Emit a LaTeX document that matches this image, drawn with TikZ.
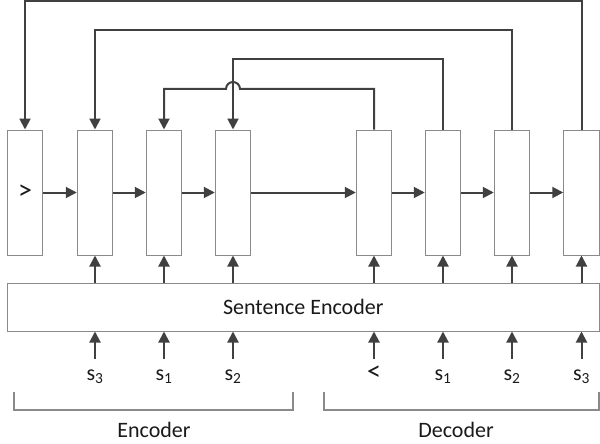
\documentclass[tikz,border=0pt]{standalone}
\usepackage{fontspec}
\setmainfont{Carlito}
\usetikzlibrary{arrows.meta}
\definecolor{ln}{HTML}{404040}
\definecolor{bd}{HTML}{8A8A8A}
\definecolor{tx}{HTML}{1A1A1A}
\begin{document}
\begin{tikzpicture}[x=1pt,y=-1pt,
  cell/.style={draw=bd,line width=1pt,fill=white,inner sep=0pt,minimum width=35.5pt,minimum height=125pt,font=\fontsize{28}{30}\selectfont,text=tx},
  arr/.style={draw=ln,line width=2pt,-{Triangle[length=11pt,width=11pt]}},
  conn/.style={draw=ln,line width=2pt,-{Triangle[length=11pt,width=11pt]}},
  lbl/.style={inner sep=0pt,anchor=base,text height=12pt,text depth=4pt,font=\fontsize{22}{26}\selectfont,text=tx},
  brk/.style={draw=bd,line width=1.6pt},
  ttl/.style={inner sep=0pt,anchor=base,font=\fontsize{22}{26}\selectfont,text=tx}]
\useasboundingbox (0,0) rectangle (600,444);
% cells
\node[cell] (b1) at (25,192.5) {>};
\node[cell] (b2) at (95,192.5) {};
\node[cell] (b3) at (164,192.5) {};
\node[cell] (b4) at (233,192.5) {};
\node[cell] (b5) at (374,192.5) {};
\node[cell] (b6) at (443,192.5) {};
\node[cell] (b7) at (512,192.5) {};
\node[cell] (b8) at (581.5,192.5) {};
% sentence encoder
\node[draw=bd,line width=1pt,fill=white,inner sep=0pt,minimum width=591.5pt,minimum height=48pt,font=\fontsize{22}{26}\selectfont,text=tx] (se) at (303.25,307) {Sentence Encoder};
% horizontal chain
\draw[arr] (b1) -- (b2);
\draw[arr] (b2) -- (b3);
\draw[arr] (b3) -- (b4);
\draw[arr] (b4) -- (b5);
\draw[arr] (b5) -- (b6);
\draw[arr] (b6) -- (b7);
\draw[arr] (b7) -- (b8);
% up from sentence encoder
\foreach \b in {b2,b3,b4,b5,b6,b7,b8}
  \draw[arr] (se.north -| \b) -- (\b.south);
% input labels
\node[lbl] (i1) at (95,380) {s\textsubscript{3}};
\node[lbl] (i2) at (164,380) {s\textsubscript{1}};
\node[lbl] (i3) at (233,380) {s\textsubscript{2}};
\node[lbl,font=\fontsize{28}{30}\selectfont] (i4) at (374,380) {<};
\node[lbl] (i5) at (443,380) {s\textsubscript{1}};
\node[lbl] (i6) at (512,380) {s\textsubscript{2}};
\node[lbl] (i7) at (581.5,380) {s\textsubscript{3}};
\foreach \i in {i1,i2,i3,i4,i5,i6,i7}
  \draw[arr] ([yshift=9pt]\i.north -| \i) -- (\i |- se.south);
% feedback connectors
\draw[conn] (b5.north) |- (240,89) arc[start angle=0,end angle=180,radius=7pt] -| (b3.north);
\draw[conn] (b6.north) -- ++(0,-70) -| (b4.north);
\draw[conn] (b7.north) -- ++(0,-99) -| (b2.north);
\draw[conn] (b8.north) -- ++(0,-128.5) -| (b1.north);
% brackets
\draw[brk] (14,392) -- (14,410) -- (293,410) -- (293,392);
\draw[brk] (324,392) -- (324,410) -- (599,410) -- (599,392);
\node[ttl] (enc) at (154,437) {Encoder};
\node[ttl] (dec) at (456,437) {Decoder};
\end{tikzpicture}
\end{document}
